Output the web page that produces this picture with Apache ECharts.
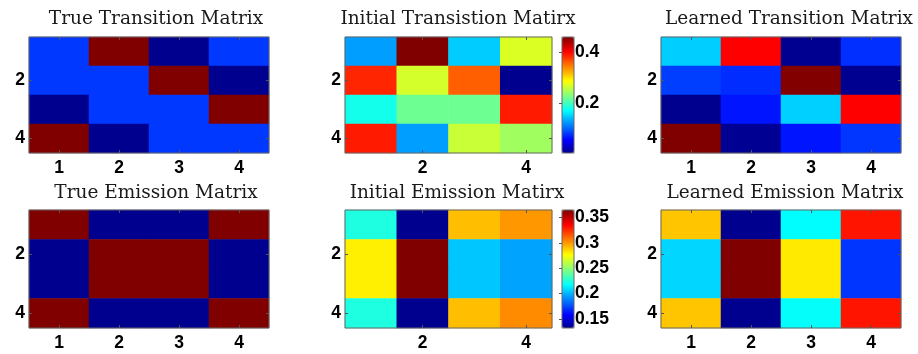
<!DOCTYPE html>
<html>
<head>
<meta charset="utf-8">
<script src="https://cdn.jsdelivr.net/npm/echarts@6/dist/echarts.min.js"></script>
<style>
  html, body { margin: 0; padding: 0; background: #ffffff; }
  #chart { width: 918px; height: 354px; }
</style>
</head>
<body>
<div id="chart"></div>
<script>
// Hidden states / observation symbols
const states = ['1', '2', '3', '4'];

// Transition matrices (row i = from state i)
const trueTransition = [
  [0.125, 0.75, 0.0, 0.125],
  [0.125, 0.125, 0.75, 0.0],
  [0.0, 0.125, 0.125, 0.75],
  [0.75, 0.0, 0.125, 0.125]
];
const initialTransition = [
  [0.128, 0.458, 0.148, 0.270],
  [0.384, 0.267, 0.358, 0.006],
  [0.180, 0.220, 0.220, 0.389],
  [0.389, 0.128, 0.261, 0.243]
];
const learnedTransition = [
  [0.239, 0.656, 0.003, 0.120],
  [0.131, 0.118, 0.748, 0.003],
  [0.002, 0.100, 0.240, 0.656],
  [0.750, 0.004, 0.100, 0.125]
];

// Emission matrices (row i = state i, column j = symbol j)
const trueEmission = [
  [0.5, 0.0, 0.0, 0.5],
  [0.0, 0.5, 0.5, 0.0],
  [0.0, 0.5, 0.5, 0.0],
  [0.5, 0.0, 0.0, 0.5]
];
const initialEmission = [
  [0.224, 0.132, 0.291, 0.300],
  [0.280, 0.365, 0.204, 0.196],
  [0.280, 0.365, 0.204, 0.196],
  [0.224, 0.132, 0.291, 0.303]
];
const learnedEmission = [
  [0.304, 0.0, 0.164, 0.384],
  [0.146, 0.45, 0.288, 0.073],
  [0.146, 0.45, 0.288, 0.073],
  [0.304, 0.0, 0.166, 0.384]
];

// Colorbar tick labels
const transitionBarTicks = [0.2, 0.4];
const emissionBarTicks = [0.15, 0.2, 0.25, 0.3, 0.35];

// MATLAB-style jet colormap with 64 entries
function jet(m) {
  const n = Math.ceil(m / 4);
  const u = [];
  for (let i = 1; i <= n; i++) u.push(i / n);
  for (let i = 1; i < n; i++) u.push(1);
  for (let i = n; i >= 1; i--) u.push(i / n);
  const gOff = Math.ceil(n / 2) - (m % 4 === 1 ? 1 : 0);
  const rgb = Array.from({ length: m }, () => [0, 0, 0]);
  for (let k = 1; k <= u.length; k++) {
    const g = gOff + k, r = g + n, b = g - n;
    if (r >= 1 && r <= m) rgb[r - 1][0] = u[k - 1];
    if (g >= 1 && g <= m) rgb[g - 1][1] = u[k - 1];
    if (b >= 1 && b <= m) rgb[b - 1][2] = u[k - 1];
  }
  return rgb.map(c => 'rgb(' + c.map(v => Math.round(v * 255)).join(',') + ')');
}
const jetColors = jet(64);

const tickFont = { fontFamily: '"Liberation Sans", Arial, sans-serif', fontWeight: 'bold', fontSize: 17.5, color: '#000' };
const frameColor = '#666666';
const tickColor = '#555555';

const panels = [
  { title: 'True Transition Matrix',    data: trueTransition,    left: 29,  top: 37,  width: 240, height: 116, titleX: 156, titleY: 19,  allX: true },
  { title: 'Initial Transistion Matirx', data: initialTransition, left: 345, top: 37,  width: 207, height: 116, titleX: 458, titleY: 19,  allX: false, bar: transitionBarTicks },
  { title: 'Learned Transition Matrix', data: learnedTransition, left: 661, top: 37,  width: 240, height: 116, titleX: 789, titleY: 19,  allX: true },
  { title: 'True Emission Matrix',      data: trueEmission,      left: 29,  top: 210, width: 240, height: 118, titleX: 156, titleY: 193, allX: true },
  { title: 'Initial Emission Matirx',   data: initialEmission,   left: 345, top: 210, width: 207, height: 118, titleX: 457, titleY: 193, allX: false, bar: emissionBarTicks },
  { title: 'Learned Emission Matrix',   data: learnedEmission,   left: 661, top: 210, width: 240, height: 118, titleX: 785, titleY: 193, allX: true }
];

const grid = [], xAxis = [], yAxis = [], series = [], visualMap = [], graphic = [];

panels.forEach((p, i) => {
  const flat = [];
  p.data.forEach((row, r) => row.forEach((v, c) => flat.push([c, r, v])));
  const vals = flat.map(d => d[2]);
  const vmin = Math.min(...vals), vmax = Math.max(...vals);

  const gi = grid.length;
  grid.push({
    left: p.left, top: p.top, width: p.width, height: p.height,
    show: true, borderColor: frameColor, borderWidth: 1, backgroundColor: 'transparent', z: 5
  });

  const xShow = p.allX ? (() => true) : ((idx) => idx % 2 === 1);
  const yShow = (idx) => idx % 2 === 1;
  const tickBase = { show: true, inside: true, alignWithLabel: true, length: 3, lineStyle: { color: tickColor, width: 1 } };

  const xi = xAxis.length;
  xAxis.push({
    gridIndex: gi, type: 'category', data: states, position: 'bottom', z: 6,
    axisLine: { show: false }, splitLine: { show: false },
    axisTick: Object.assign({}, tickBase, { interval: xShow }),
    axisLabel: Object.assign({}, tickFont, { interval: xShow, margin: 6 })
  });
  xAxis.push({
    gridIndex: gi, type: 'category', data: states, position: 'top', z: 6,
    axisLine: { show: false }, splitLine: { show: false },
    axisTick: Object.assign({}, tickBase, { interval: xShow }),
    axisLabel: { show: false }
  });
  const yi = yAxis.length;
  yAxis.push({
    gridIndex: gi, type: 'category', data: states, inverse: true, position: 'left', z: 6,
    axisLine: { show: false }, splitLine: { show: false },
    axisTick: Object.assign({}, tickBase, { interval: yShow }),
    axisLabel: Object.assign({}, tickFont, { interval: yShow, margin: 4 })
  });
  yAxis.push({
    gridIndex: gi, type: 'category', data: states, inverse: true, position: 'right', z: 6,
    axisLine: { show: false }, splitLine: { show: false },
    axisTick: Object.assign({}, tickBase, { interval: yShow }),
    axisLabel: { show: false }
  });

  const si = series.length;
  series.push({
    type: 'heatmap', xAxisIndex: xi, yAxisIndex: yi, data: flat, z: 1,
    itemStyle: { borderWidth: 0 }, emphasis: { disabled: true }, silent: true, progressive: 0
  });

  visualMap.push({
    type: 'continuous', seriesIndex: si, min: vmin, max: vmax, dimension: 2,
    inRange: { color: jetColors },
    show: !!p.bar, calculable: false, text: null, hoverLink: false,
    left: 562, top: p.top, itemWidth: 12, itemHeight: p.height, padding: 0, itemGap: 0
  });

  if (p.bar) {
    const bg = grid.length;
    grid.push({
      left: 562, top: p.top, width: 12, height: p.height,
      show: true, borderColor: frameColor, borderWidth: 1, backgroundColor: 'transparent', z: 6
    });
    xAxis.push({ gridIndex: bg, type: 'value', show: false, min: 0, max: 1 });
    yAxis.push({
      gridIndex: bg, type: 'value', min: vmin, max: vmax, position: 'right', z: 7,
      axisLine: { show: false }, splitLine: { show: false },
      axisTick: { show: true, inside: true, length: 3, customValues: p.bar, lineStyle: { color: tickColor } },
      axisLabel: Object.assign({}, tickFont, { customValues: p.bar, margin: 1, formatter: v => String(+v.toFixed(2)) })
    });
  }

  graphic.push({
    type: 'text', x: p.titleX, y: p.titleY, silent: true,
    style: {
      text: p.title, textAlign: 'center', textVerticalAlign: 'middle',
      font: '18.5px "DejaVu Serif", serif', fill: '#1a1a1a'
    }
  });
});

const chart = echarts.init(document.getElementById('chart'), null, { renderer: 'canvas' });
chart.setOption({
  animation: false,
  backgroundColor: '#ffffff',
  grid, xAxis, yAxis, series, visualMap, graphic
});
</script>
</body>
</html>
